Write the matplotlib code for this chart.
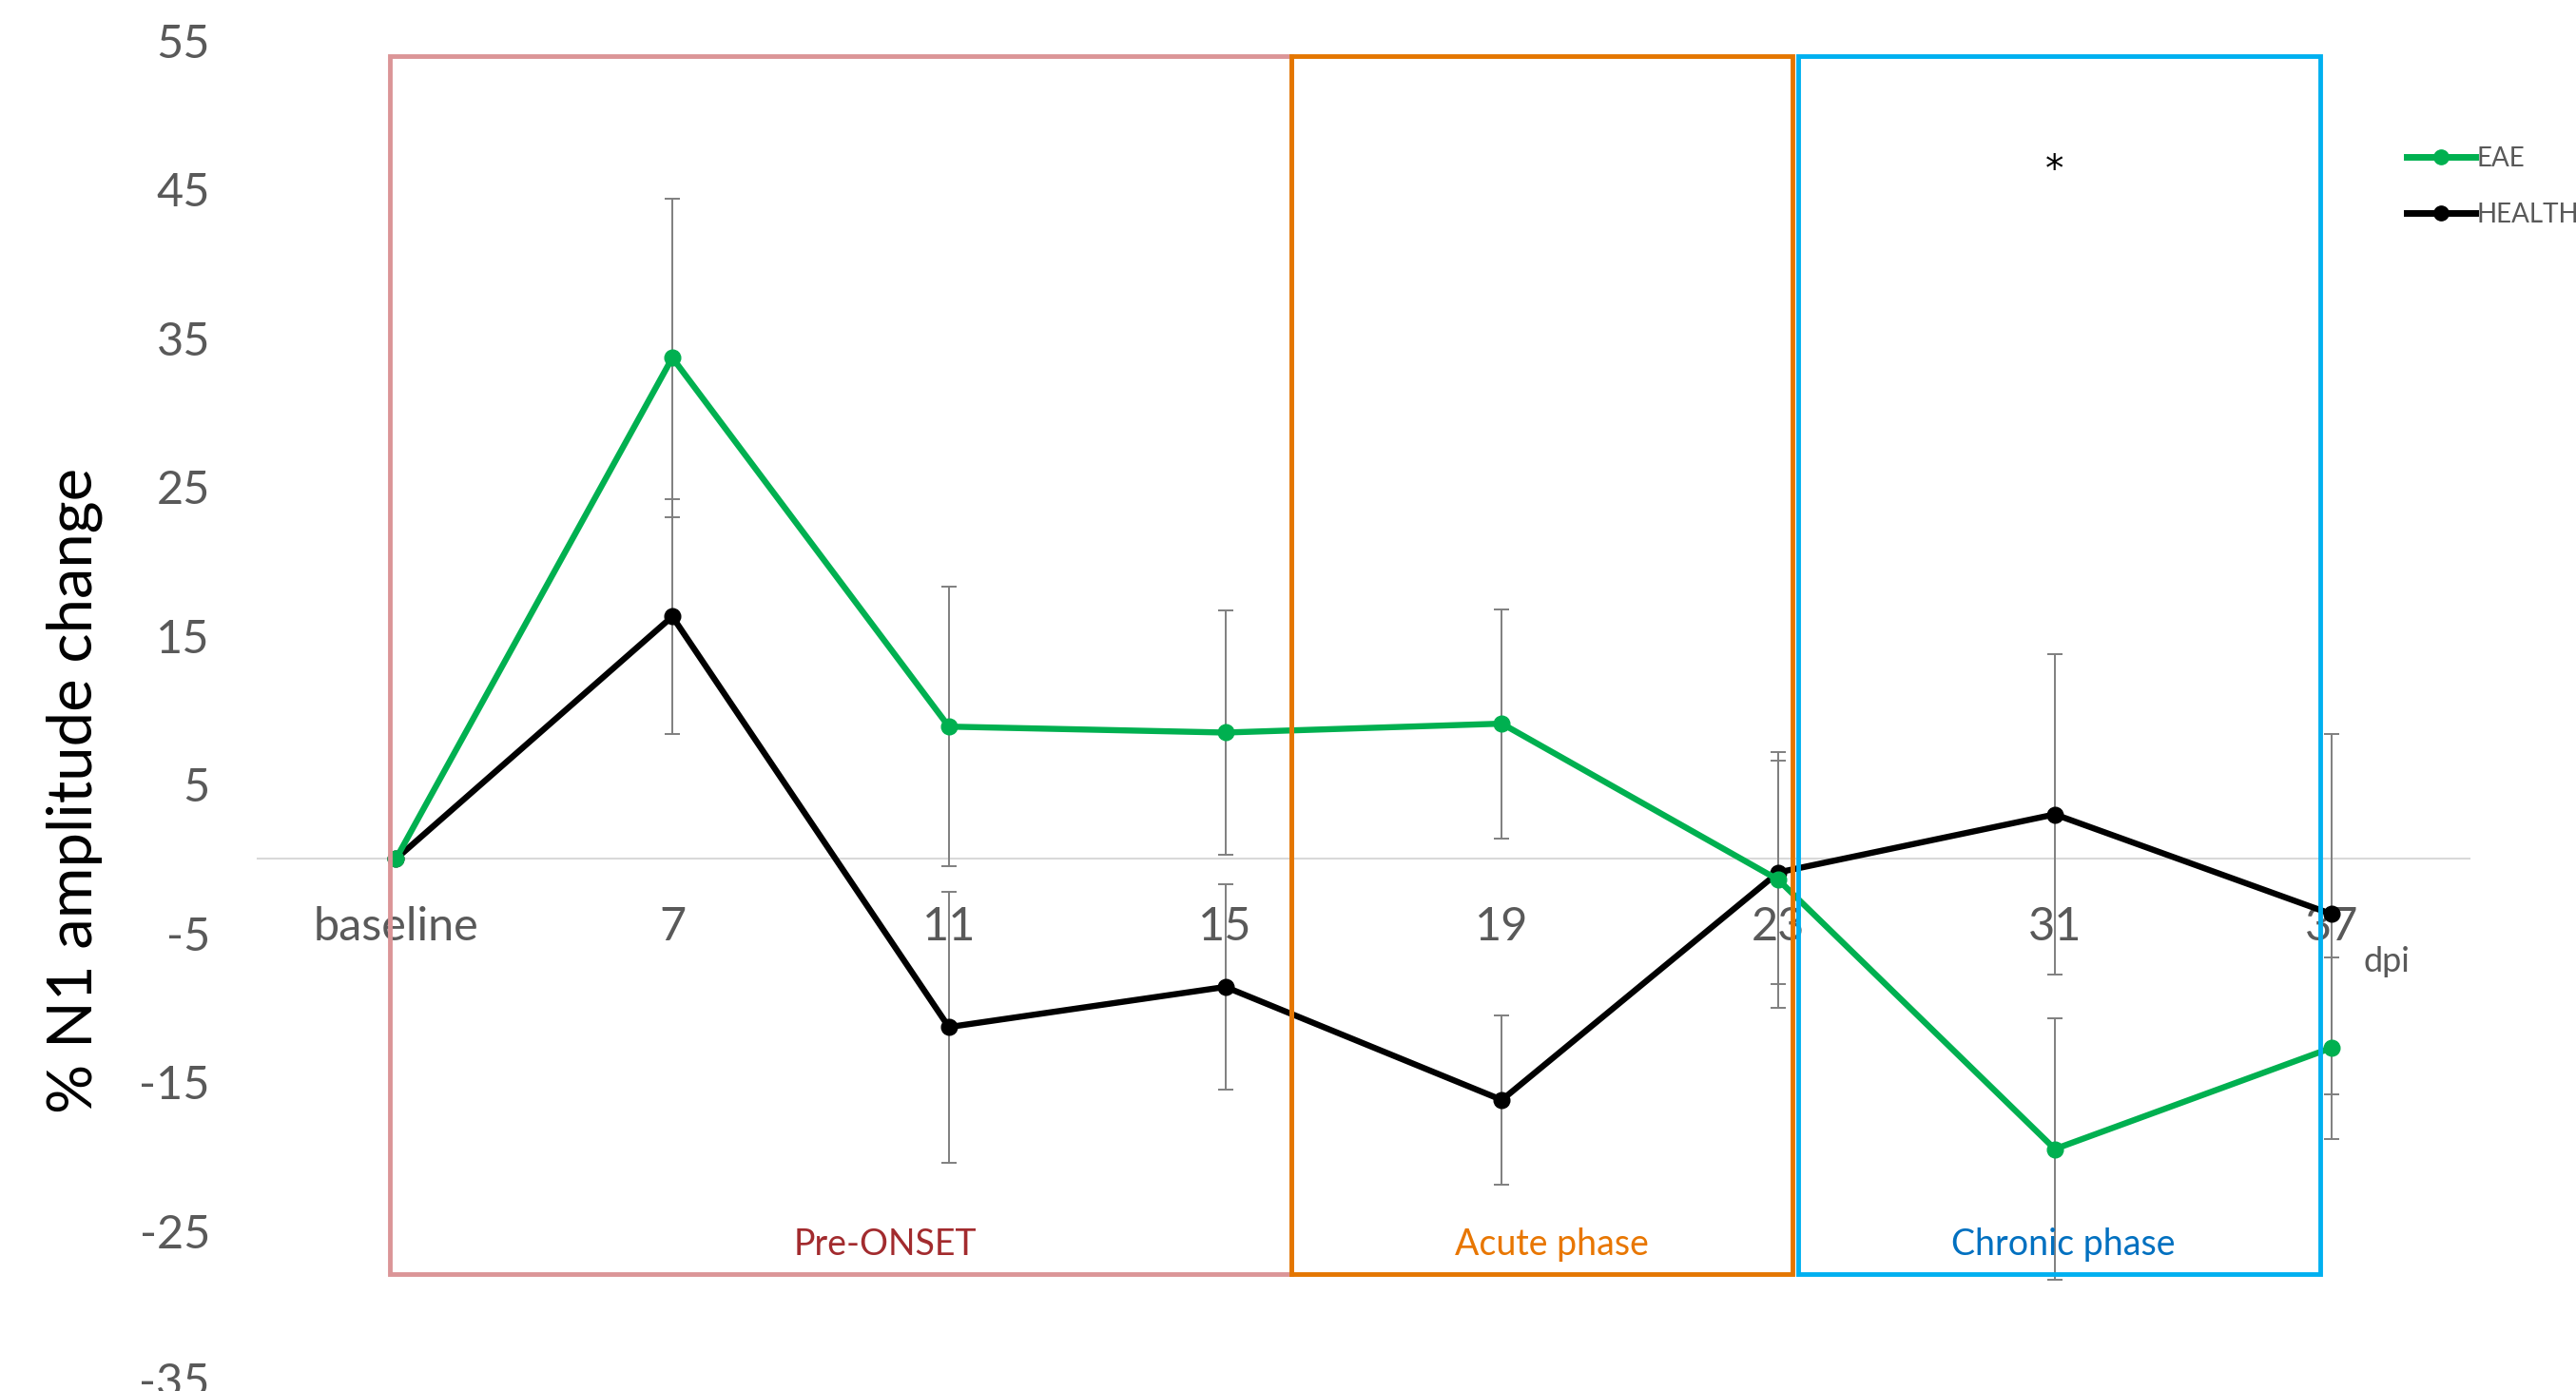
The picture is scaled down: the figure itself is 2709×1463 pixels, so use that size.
import matplotlib

matplotlib.use("Agg")  # Non-interactive backend
import matplotlib.pyplot as plt
from matplotlib.lines import Line2D
from matplotlib.patches import Rectangle
import numpy as np

# Data
days = ["baseline", "7", "11", "15", "19", "23", "31", "37"]
eae = [0, 33.7, 8.9, 8.5, 9.1, -1.4, -19.5, -12.7]
eae_err = [0, 10.7, 9.4, 8.2, 7.7, 8.6, 8.8, 6.1]
healthy = [0, 16.3, -11.3, -8.6, -16.2, -0.9, 3.0, -3.7]
healthy_err = [0, 7.9, 9.1, 6.9, 5.7, 7.5, 10.8, 12.1]

# Phase boxes (category positions, value range)
phase_names = ["Pre-ONSET", "Acute phase", "Chronic phase"]
phase_start = [-0.02, 3.24, 5.07]
phase_end = [3.24, 5.05, 6.96]
phase_label_x = [1.77, 4.18, 6.03]
phase_low = -27.9
phase_high = 54.0
phase_edge = ["#DB9597", "#E47600", "#00B0F0"]
phase_text = ["#A22B2E", "#E87600", "#0070C0"]

plt.rcParams["font.family"] = ["Lato", "DejaVu Sans"]
plt.rcParams["axes.unicode_minus"] = False

fig = plt.figure(figsize=(27.09, 14.63), dpi=100)
ax = fig.add_axes([0.100, 0.0082, 0.8587, 0.9624])

x = np.arange(len(days))
grey = "#595959"

ax.errorbar(x[1:], eae[1:], yerr=eae_err[1:], fmt="none", ecolor="#7F7F7F",
            elinewidth=1.4, capsize=6, capthick=1.4, zorder=3)
ax.errorbar(x[1:], healthy[1:], yerr=healthy_err[1:], fmt="none", ecolor="#7F7F7F",
            elinewidth=1.4, capsize=6, capthick=1.4, zorder=3)
ax.plot(x, healthy, color="black", lw=4.6, marker="o", ms=12, zorder=5)
ax.plot(x, eae, color="#00B050", lw=4.6, marker="o", ms=12, zorder=5)

for name, x0, x1, lx, ec, tc in zip(phase_names, phase_start, phase_end,
                                    phase_label_x, phase_edge, phase_text):
    ax.add_patch(Rectangle((x0, phase_low), x1 - x0, phase_high - phase_low,
                           fill=False, edgecolor=ec, lw=3.5, zorder=6))
    ax.text(lx, phase_low + 2.0, name, color=tc, fontsize=27,
            ha="center", va="center", zorder=7)

ax.text(6, 46.3, "*", fontsize=28, ha="center", va="center", color="black",
        family="DejaVu Sans")
ax.text(7.2, -6.9, "dpi", fontsize=26, color=grey, ha="center", va="center")

ax.set_xlim(-0.5, 7.5)
ax.set_ylim(-35, 55)
ax.set_yticks(np.arange(-35, 56, 10))
ax.set_xticks(x)
ax.set_xticklabels(days)

for side in ["top", "right", "left"]:
    ax.spines[side].set_visible(False)
ax.spines["bottom"].set_position(("data", 0))
ax.spines["bottom"].set_color("#D9D9D9")
ax.spines["bottom"].set_linewidth(1.5)

ax.tick_params(axis="x", length=0, pad=36, labelsize=35, labelcolor=grey)
ax.tick_params(axis="y", length=0, pad=36, labelsize=35, labelcolor=grey)
ax.set_ylabel("% N1 amplitude change", fontsize=47, color="black")
ax.yaxis.set_label_coords(-0.070, 0.44)

handles = [
    Line2D([], [], color="#00B050", lw=5, marker="o", ms=11),
    Line2D([], [], color="black", lw=5, marker="o", ms=11),
]
fig.legend(handles, ["EAE", "HEALTHY"], loc="upper left",
           bbox_to_anchor=(0.925, 0.912), frameon=False, fontsize=20,
           labelcolor=grey, handlelength=2.6, handletextpad=0.05,
           labelspacing=1.2)

fig.savefig("out.png", dpi=100)
plt.close(fig)
